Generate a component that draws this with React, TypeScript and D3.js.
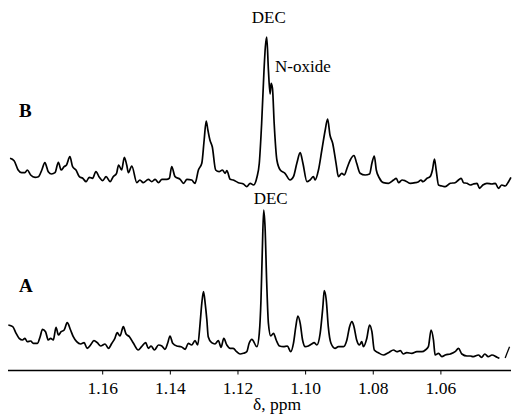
import React from "react";
import * as d3 from "d3";

// Spectrum B: [ppm, intensity]
const traceB: [number, number][] = [
  [1.1874, 31.7], [1.1862, 29.3], [1.1850, 20], [1.1840, 17.3], [1.1830, 17.3], [1.1823, 20],
  [1.1813, 15], [1.1800, 12.7], [1.1790, 13.3], [1.1780, 20], [1.1771, 27.3], [1.1761, 18.3],
  [1.1751, 16], [1.1741, 17.3], [1.1731, 27.7], [1.1723, 20], [1.1714, 23.3], [1.1707, 25],
  [1.1697, 33.3], [1.1689, 23.3], [1.1679, 20], [1.1669, 13.3], [1.1659, 11.7], [1.1649, 8.3],
  [1.1640, 12.7], [1.1630, 11.7], [1.1620, 18.3], [1.1610, 12.7], [1.1600, 9.3], [1.1590, 13.3],
  [1.1578, 8.3], [1.1569, 13.3], [1.1559, 16.7], [1.1553, 25], [1.1544, 20], [1.1536, 32.7],
  [1.1529, 25], [1.1524, 17.3], [1.1514, 24], [1.1499, 7.3], [1.1490, 10], [1.1480, 7.3],
  [1.1465, 10.7], [1.1455, 8.3], [1.1445, 10.7], [1.1435, 7.3], [1.1425, 10.7], [1.1411, 10.7],
  [1.1403, 11.7], [1.1396, 23.3], [1.1386, 13.3], [1.1371, 10.7], [1.1361, 6.7], [1.1351, 10.7],
  [1.1337, 10], [1.1327, 6.7], [1.1317, 20], [1.1307, 26.7], [1.1300, 50], [1.1294, 69],
  [1.1289, 60], [1.1283, 50], [1.1276, 43.3], [1.1266, 20], [1.1256, 18.3], [1.1246, 20],
  [1.1238, 16.7], [1.1233, 19.3], [1.1223, 10.7], [1.1214, 10], [1.1199, 7.3], [1.1184, 6],
  [1.1174, 3.3], [1.1164, 6.7], [1.1154, 5], [1.1144, 12.7], [1.1137, 26.7], [1.1130, 66.7],
  [1.1123, 120], [1.1119, 143.3], [1.1115, 153], [1.1110, 120], [1.1105, 96], [1.1102, 106.7],
  [1.1098, 101.7], [1.1093, 66.7], [1.1085, 30], [1.1075, 20], [1.1061, 16.7], [1.1046, 10],
  [1.1036, 13.3], [1.1026, 26.7], [1.1016, 37.3], [1.1008, 26.7], [1.0996, 8.3], [1.0987, 10],
  [1.0977, 13.3], [1.0972, 10], [1.0962, 20], [1.0952, 40], [1.0942, 60], [1.0935, 71],
  [1.0928, 55], [1.0920, 46.7], [1.0910, 26.7], [1.0903, 13.3], [1.0893, 16.7], [1.0886, 15],
  [1.0876, 23.3], [1.0868, 30], [1.0857, 34.5], [1.0849, 26.7], [1.0839, 16.7], [1.0824, 15],
  [1.0811, 16], [1.0804, 26.7], [1.0797, 34], [1.0791, 20], [1.0782, 12], [1.0770, 7.3],
  [1.0755, 6.7], [1.0740, 10], [1.0732, 11.7], [1.0725, 7.3], [1.0715, 10], [1.0706, 9.3],
  [1.0691, 6.7], [1.0676, 7.3], [1.0666, 8.3], [1.0659, 10], [1.0653, 8.3], [1.0641, 11.7],
  [1.0632, 13.3], [1.0625, 20], [1.0619, 31], [1.0614, 20], [1.0607, 5], [1.0597, 4],
  [1.0587, 3.3], [1.0572, 6.7], [1.0558, 7.3], [1.0548, 10], [1.0540, 11.7], [1.0533, 7.3],
  [1.0523, 6.7], [1.0513, 5], [1.0504, 6], [1.0493, 6.7], [1.0486, 1.7], [1.0476, 5],
  [1.0464, 6.7], [1.0449, 6], [1.0439, 6.7], [1.0430, 1.7], [1.0420, 5], [1.0410, 4],
  [1.0400, 8.3], [1.0393, 12.7],
];

// Spectrum A: [ppm, intensity]
const traceA: [number, number][] = [
  [1.1879, 35], [1.1866, 33.3], [1.1856, 26.7], [1.1847, 21.7], [1.1837, 20], [1.1830, 21.7],
  [1.1823, 18.3], [1.1813, 19], [1.1805, 16.7], [1.1793, 16.7], [1.1785, 23.3], [1.1778, 30.7],
  [1.1769, 28.3], [1.1761, 20], [1.1754, 21.7], [1.1746, 20], [1.1738, 32.7], [1.1731, 25],
  [1.1723, 28.3], [1.1714, 30], [1.1705, 37.3], [1.1695, 30], [1.1687, 23.3], [1.1677, 18.3],
  [1.1665, 16], [1.1655, 17.3], [1.1646, 11.7], [1.1636, 15], [1.1626, 19.3], [1.1616, 17.3],
  [1.1606, 14], [1.1593, 16], [1.1583, 11.7], [1.1573, 16.7], [1.1564, 21.7], [1.1557, 27.3],
  [1.1549, 24], [1.1539, 33.3], [1.1531, 26], [1.1521, 23.3], [1.1509, 16.7], [1.1495, 10],
  [1.1485, 13.3], [1.1473, 17.3], [1.1465, 11.7], [1.1457, 14], [1.1447, 10], [1.1435, 15],
  [1.1425, 14], [1.1416, 10.7], [1.1408, 16.7], [1.1401, 24], [1.1393, 16.7], [1.1381, 14],
  [1.1368, 13.3], [1.1356, 10.7], [1.1347, 16.7], [1.1337, 15], [1.1327, 19.3], [1.1319, 15],
  [1.1312, 36.7], [1.1307, 56.7], [1.1302, 68.3], [1.1297, 56.7], [1.1292, 40], [1.1288, 23.3],
  [1.1278, 17.3], [1.1268, 16], [1.1258, 19.3], [1.1250, 12.7], [1.1242, 21.7], [1.1233, 15],
  [1.1223, 11.7], [1.1214, 11.7], [1.1204, 8.3], [1.1194, 6], [1.1184, 6.7], [1.1174, 8.3],
  [1.1167, 16.7], [1.1159, 20.7], [1.1144, 13.3], [1.1137, 26.7], [1.1132, 60], [1.1128, 110],
  [1.1124, 150], [1.1120, 133.3], [1.1115, 76.7], [1.1110, 36.7], [1.1103, 24], [1.1095, 26.7],
  [1.1087, 20], [1.1077, 14], [1.1066, 13.3], [1.1054, 14], [1.1044, 8.3], [1.1036, 16.7],
  [1.1029, 33.3], [1.1023, 44], [1.1016, 36.7], [1.1009, 20], [1.1001, 13.3], [1.0992, 14],
  [1.0982, 16], [1.0975, 17.3], [1.0967, 15], [1.0957, 26.7], [1.0949, 53.3], [1.0945, 69.3],
  [1.0939, 60], [1.0933, 33.3], [1.0925, 16.7], [1.0913, 11.7], [1.0903, 13.3], [1.0888, 13.3],
  [1.0878, 20], [1.0870, 33.3], [1.0863, 38.3], [1.0857, 33.3], [1.0849, 20], [1.0841, 15],
  [1.0834, 18.3], [1.0829, 13.3], [1.0819, 21.7], [1.0811, 35], [1.0804, 28.3], [1.0797, 10],
  [1.0785, 7.3], [1.0770, 5], [1.0755, 7.3], [1.0740, 10], [1.0730, 8.3], [1.0720, 9.3],
  [1.0711, 6], [1.0701, 7.3], [1.0686, 6.7], [1.0671, 8.3], [1.0656, 8.3], [1.0646, 10],
  [1.0637, 13.3], [1.0629, 30], [1.0622, 20], [1.0617, 5], [1.0607, 6.7], [1.0597, 3.3],
  [1.0587, 5], [1.0572, 6], [1.0558, 8.3], [1.0548, 11.7], [1.0538, 6], [1.0523, 4],
  [1.0513, 4], [1.0504, 3.3], [1.0489, 5], [1.0480, 2.7], [1.0470, 6], [1.0460, 3.3],
  [1.0449, 5], [1.0434, 2.7], [1.0427, 1.7],
];

const breakMarkA: [number, number][] = [[1.0410, 2], [1.0397, 13.3]];

const tickValues = [1.16, 1.14, 1.12, 1.10, 1.08, 1.06];
const axisTitle = "δ, ppm";
const traceLabels = ["B", "A"];
const peakLabels = ["DEC", "N-oxide", "DEC"];

const W = 512;
const H = 418;
const FONT = "'Liberation Serif', 'Times New Roman', serif";

export default function App() {
  const x = d3.scaleLinear().domain([1.16, 1.06]).range([102.7, 440.9]);
  const yB = d3.scaleLinear().domain([0, 160]).range([190, 30]);
  const yA = d3.scaleLinear().domain([0, 160]).range([360, 200]);
  const lineB = d3
    .line<[number, number]>()
    .x((d) => x(d[0]))
    .y((d) => yB(d[1]))
    .curve(d3.curveMonotoneX);
  const lineA = d3
    .line<[number, number]>()
    .x((d) => x(d[0]))
    .y((d) => yA(d[1]))
    .curve(d3.curveMonotoneX);
  const breakLine = d3.line<[number, number]>().x((d) => x(d[0])).y((d) => yA(d[1]));
  const axisY = 370.5;

  return (
    <svg
      width={W}
      height={H}
      style={{ position: "absolute", left: 0, top: 0, background: "#fff" }}
      fontFamily={FONT}
    >
      <path d={lineB(traceB) || ""} fill="none" stroke="#000" strokeWidth={1.7} strokeLinejoin="round" />
      <path d={lineA(traceA) || ""} fill="none" stroke="#000" strokeWidth={1.7} strokeLinejoin="round" />
      <path d={breakLine(breakMarkA) || ""} fill="none" stroke="#000" strokeWidth={1.3} />

      {/* axis */}
      <line x1={8} x2={511} y1={axisY} y2={axisY} stroke="#000" strokeWidth={1.5} />
      {tickValues.map((t) => (
        <g key={t} transform={`translate(${x(t)},${axisY})`}>
          <line y1={0} y2={4} stroke="#000" strokeWidth={1} />
          <text y={23} textAnchor="middle" fontSize={17.5} fill="#000">
            {t.toFixed(2)}
          </text>
        </g>
      ))}
      <text x={277} y={410} textAnchor="middle" fontSize={17.5} fill="#000">
        {axisTitle}
      </text>

      {/* trace labels */}
      <text x={19} y={117} fontSize={19} fontWeight="bold" fill="#000">{traceLabels[0]}</text>
      <text x={19} y={292} fontSize={19} fontWeight="bold" fill="#000">{traceLabels[1]}</text>

      {/* peak labels */}
      <text x={x(1.1115) + 2} y={23} textAnchor="middle" fontSize={17} fill="#000">{peakLabels[0]}</text>
      <text x={275} y={72} fontSize={17} fill="#000">{peakLabels[1]}</text>
      <text x={x(1.1124) + 7} y={204} textAnchor="middle" fontSize={17} fill="#000">{peakLabels[2]}</text>
    </svg>
  );
}
